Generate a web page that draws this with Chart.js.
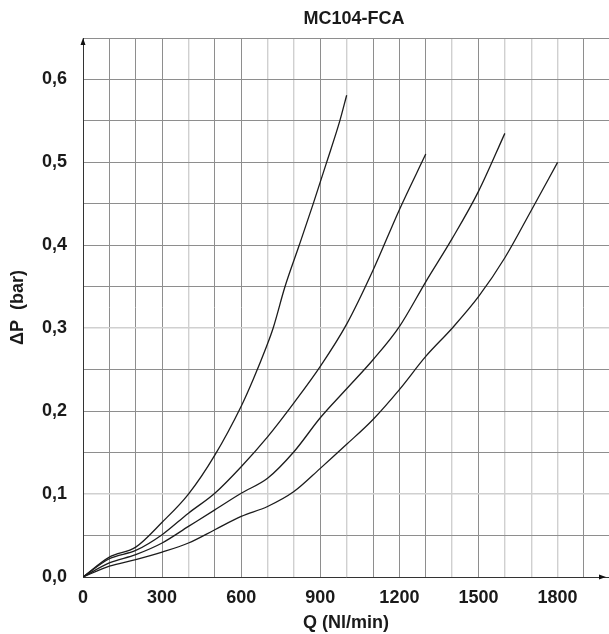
<!DOCTYPE html>
<html>
<head>
<meta charset="utf-8">
<script src="https://cdn.jsdelivr.net/npm/chart.js@4.4.0/dist/chart.umd.min.js"></script>
<style>
  html, body { margin: 0; padding: 0; background: #fff; }
</style>
</head>
<body>
<canvas id="chart" width="609" height="634"></canvas>
<script>
// flow curves, Q in Nl/min, dP in bar
const q1 = [0, 100, 200, 300, 400, 500, 600, 645, 696, 721, 766, 820, 873, 924, 974, 1000];
const p1 = [0, 0.024, 0.036, 0.066, 0.100, 0.147, 0.206, 0.238, 0.278, 0.300, 0.350, 0.400, 0.450, 0.500, 0.550, 0.581];

const q2 = [0, 100, 200, 300, 400, 500, 600, 700, 800, 900, 1000, 1100, 1200, 1300];
const p2 = [0, 0.022, 0.032, 0.051, 0.077, 0.101, 0.133, 0.169, 0.210, 0.254, 0.305, 0.370, 0.443, 0.510];

const q3 = [0, 100, 200, 300, 400, 500, 600, 700, 800, 900, 1000, 1100, 1200, 1300, 1400, 1500, 1600];
const p3 = [0, 0.017, 0.027, 0.041, 0.061, 0.081, 0.101, 0.119, 0.151, 0.192, 0.227, 0.262, 0.302, 0.356, 0.408, 0.465, 0.535];

const q4 = [0, 100, 200, 300, 400, 500, 600, 700, 800, 900, 1000, 1100, 1200, 1300, 1400, 1500, 1600, 1700, 1800];
const p4 = [0, 0.013, 0.021, 0.030, 0.041, 0.057, 0.073, 0.085, 0.103, 0.131, 0.160, 0.190, 0.226, 0.266, 0.300, 0.338, 0.385, 0.442, 0.500];

// grid every 100 / 0.05, labels every 300 / 0.1
const xTicks = [0, 100, 200, 300, 400, 500, 600, 700, 800, 900, 1000, 1100, 1200, 1300, 1400, 1500, 1600, 1700, 1800, 1900];
const xLabels = [0, 300, 600, 900, 1200, 1500, 1800];
const yTicks = [0, 0.05, 0.1, 0.15, 0.2, 0.25, 0.3, 0.35, 0.4, 0.45, 0.5, 0.55, 0.6, 0.65];
const yLabels = ['0,0', '0,1', '0,2', '0,3', '0,4', '0,5', '0,6'];

// scanned grid: some lines come out paler
const paleX = [400, 700, 800, 1000, 1400, 1600, 1700, 1800];
const paleY = [0.1, 0.3];

const FONT = '"Liberation Sans", Arial, sans-serif';
const dark = '#8e8e8e';
const pale = '#d0d0d0';

const toPoints = (qs, ps) => qs.map((q, i) => ({ x: q, y: ps[i] }));

const curve = (qs, ps) => ({
  data: toPoints(qs, ps),
  borderColor: '#1c1c1c',
  borderWidth: 1.3,
  pointRadius: 0,
  fill: false,
  cubicInterpolationMode: 'monotone'
});

// axis arrows + title drawn on top
const extras = {
  id: 'extras',
  afterDraw(chart) {
    const { ctx, chartArea } = chart;
    const l = chartArea.left, t = chartArea.top, b = chartArea.bottom, r = chartArea.right;
    ctx.save();
    ctx.fillStyle = '#111';
    ctx.beginPath();
    ctx.moveTo(l, t);
    ctx.lineTo(l - 2.5, t + 7);
    ctx.lineTo(l + 2.5, t + 7);
    ctx.closePath();
    ctx.fill();
    ctx.beginPath();
    ctx.moveTo(r - 3, b);
    ctx.lineTo(r - 10, b - 2.5);
    ctx.lineTo(r - 10, b + 2.5);
    ctx.closePath();
    ctx.fill();

    ctx.fillStyle = '#1a1a1a';
    ctx.font = 'bold 18px ' + FONT;
    ctx.textAlign = 'center';
    ctx.textBaseline = 'middle';
    ctx.fillText('MC104-FCA', 354, 19);
    ctx.restore();
  }
};

new Chart(document.getElementById('chart'), {
  type: 'line',
  data: {
    datasets: [curve(q1, p1), curve(q2, p2), curve(q3, p3), curve(q4, p4)]
  },
  options: {
    responsive: false,
    animation: false,
    layout: { padding: { top: 38, right: 0, left: 0, bottom: 0 } },
    plugins: {
      legend: { display: false },
      tooltip: { enabled: false },
      title: { display: false }
    },
    scales: {
      x: {
        type: 'linear',
        min: 0,
        max: 1995,
        afterBuildTicks: (s) => { s.ticks = xTicks.map((v) => ({ value: v })); },
        afterFit: (s) => { s.height = 57; s.paddingRight = 0; s.paddingLeft = 0; },
        border: { color: '#333', width: 1 },
        grid: {
          drawTicks: false,
          color: (c) => (paleX.includes(c.tick.value) ? pale : dark),
          lineWidth: (c) => (paleX.includes(c.tick.value) ? 1.4 : 1)
        },
        ticks: {
          autoSkip: false,
          maxRotation: 0,
          padding: 10,
          color: '#1a1a1a',
          font: { family: FONT, size: 18, weight: 'bold' },
          callback: (v) => (xLabels.includes(v) ? String(v) : '')
        },
        title: {
          display: true,
          text: 'Q (Nl/min)',
          color: '#1a1a1a',
          font: { family: FONT, size: 18, weight: 'bold' },
          padding: { top: 0, bottom: 0 }
        }
      },
      y: {
        min: 0,
        max: 0.65,
        afterBuildTicks: (s) => { s.ticks = yTicks.map((v) => ({ value: v })); },
        afterFit: (s) => { s.width = 83; s.paddingTop = 0; s.paddingBottom = 0; },
        border: { color: '#333', width: 1 },
        grid: {
          drawTicks: false,
          color: (c) => (paleY.includes(c.tick.value) ? pale : dark),
          lineWidth: (c) => (paleY.includes(c.tick.value) ? 1.6 : 1)
        },
        ticks: {
          autoSkip: false,
          padding: 16,
          color: '#1a1a1a',
          font: { family: FONT, size: 18, weight: 'bold' },
          callback: (v, i) => (i % 2 === 0 ? yLabels[i / 2] : '')
        },
        title: {
          display: true,
          text: 'ΔP  (bar)',
          color: '#1a1a1a',
          font: { family: FONT, size: 18, weight: 'bold' },
          padding: { top: 7, bottom: 0 }
        }
      }
    }
  },
  plugins: [extras]
});
</script>
</body>
</html>
